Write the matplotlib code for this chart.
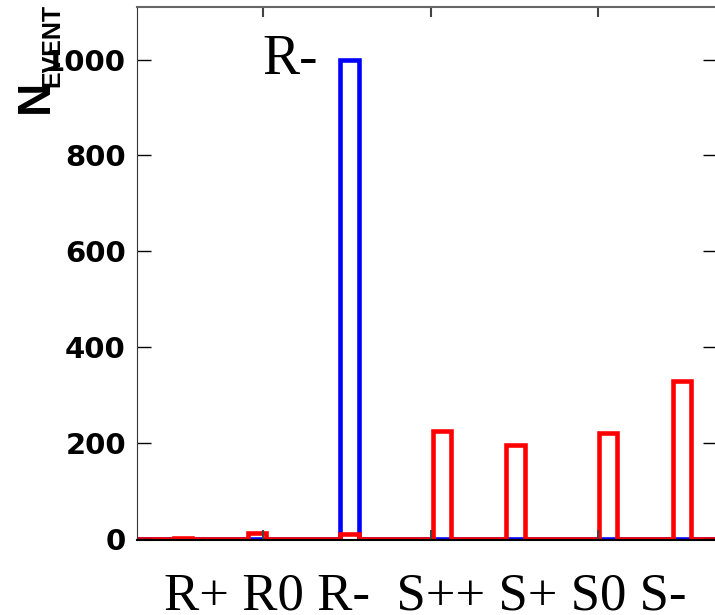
import numpy as np
import matplotlib
matplotlib.use('Agg')
import matplotlib.pyplot as plt

# channel labels and the bin each one sits in
channels = ['R+', 'R0', 'R-', 'S++', 'S+', 'S0', 'S-']
channel_bins = [2, 6, 11, 16, 20, 25, 29]

# event counts per channel
blue_counts = [0, 0, 1000, 0, 0, 0, 0]
red_counts = [2, 12, 10, 225, 195, 220, 330]

n_bins = 32
edges = np.arange(n_bins + 1)
blue_hist = np.zeros(n_bins)
red_hist = np.zeros(n_bins)
for b, v in zip(channel_bins, blue_counts):
    blue_hist[b] = v
for b, v in zip(channel_bins, red_counts):
    red_hist[b] = v

fig = plt.figure(figsize=(7.15, 6.15), dpi=100)
ax = fig.add_axes([137 / 715, 75 / 615, 580 / 715, 533 / 615])

ax.stairs(blue_hist, edges, color='blue', linewidth=3.3)
ax.stairs(red_hist, edges, color='red', linewidth=3.3)

ax.set_xlim(0, 31.4)
ax.set_ylim(-3, 1110)

ax.set_yticks([0, 200, 400, 600, 800, 1000])
ax.set_xticks([6.82, 15.9, 24.97])
ax.set_xticklabels([])
for lab in ax.get_yticklabels():
    lab.set_fontfamily('DejaVu Sans')
    lab.set_fontweight('heavy')
    lab.set_fontsize(21)
ax.tick_params(axis='y', direction='in', length=10, width=1, pad=8,
               left=True, right=True)
ax.tick_params(axis='x', direction='in', length=7, width=1.5,
               top=True, bottom=True, colors='#444444')

ax.spines['top'].set_color('#666666')
ax.spines['top'].set_linewidth(1.5)
ax.spines['left'].set_color('#333333')
ax.spines['bottom'].set_color('black')
ax.spines['bottom'].set_linewidth(1.5)

# label over the tall bar
ax.text(6.8, 1000, 'R-', fontsize=40, family='Liberation Serif',
        ha='left', va='center')

# y label: N with subscript EVENT
fig.text(36 / 715, 1 - 96 / 615, 'N', rotation=90, fontsize=33,
         fontweight='bold', family='Liberation Sans', ha='center', va='center')
fig.text(52 / 715, 1 - 45 / 615, 'EVENT', rotation=90, fontsize=18,
         fontweight='bold', family='Liberation Sans', ha='center', va='center')

# channel names under the axis
fig.text(164 / 715, 1 - 610 / 615, '  '.join([' '.join(channels[:3]), ' '.join(channels[3:])]),
         fontsize=38, family='Liberation Serif', ha='left', va='baseline')

fig.savefig('out.png', dpi=100)
